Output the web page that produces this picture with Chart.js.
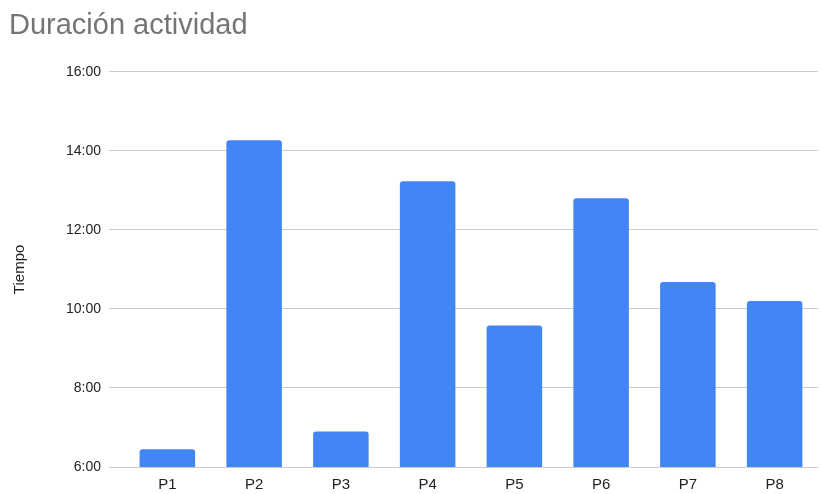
<!DOCTYPE html>
<html>
<head>
<meta charset="utf-8">
<script src="https://cdn.jsdelivr.net/npm/chart.js@4"></script>
<style>
  html, body { margin: 0; padding: 0; background: #fff; }
  #wrap { width: 822px; height: 494px; }
</style>
</head>
<body>
<div id="wrap"><canvas id="duracionChart"></canvas></div>
<script>
// duración por participante, en H:MM
const participantes = ['P1', 'P2', 'P3', 'P4', 'P5', 'P6', 'P7', 'P8'];
const duraciones = ['6:27', '14:16', '6:54', '13:14', '9:35', '12:48', '10:41', '10:12'];
const ticksHoras = [6, 8, 10, 12, 14, 16];

const aHoras = (s) => {
    const [h, m] = s.split(':').map(Number);
    return h + m / 60;
};

const familia = '"Liberation Sans", Arial, sans-serif';
const fuente = { family: familia, size: 15 };

const ctx = document.getElementById('duracionChart').getContext('2d');
const duracionChart = new Chart(ctx, {
    type: 'bar',
    data: {
        labels: participantes,
        datasets: [{
            label: 'Tiempo',
            data: duraciones.map(aHoras),
            backgroundColor: '#4285F4',
            borderRadius: 3,
            borderSkipped: 'bottom',
            barPercentage: 0.64,
            categoryPercentage: 1,
        }],
    },
    options: {
        responsive: true,
        maintainAspectRatio: false,
        animation: false,
        layout: { padding: { left: 9, right: 4, bottom: 2 } },
        plugins: {
            legend: { display: false },
            tooltip: { enabled: false },
            title: {
                display: true,
                text: 'Duración actividad',
                align: 'start',
                color: '#757575',
                font: { family: familia, size: 29, weight: 'normal' },
                padding: { top: 9, bottom: 28 },
            },
        },
        scales: {
            x: {
                afterFit: (scale) => { scale.height = 25; },
                grid: { display: false, drawTicks: false },
                border: { display: false },
                ticks: {
                    color: '#222',
                    padding: 9,
                    font: fuente,
                },
            },
            y: {
                min: 6,
                max: 16,
                afterBuildTicks: (scale) => {
                    scale.ticks = ticksHoras.map(v => ({ value: v }));
                },
                afterFit: (scale) => { scale.width = 115; },
                border: { display: false },
                grid: {
                    color: '#cccccc',
                    tickColor: '#cccccc',
                    tickLength: 15,
                },
                ticks: {
                    color: '#222',
                    padding: 8,
                    font: { family: familia, size: 14 },
                    callback: (v) => v + ':00',
                },
                title: {
                    display: true,
                    text: 'Tiempo',
                    color: '#222',
                    padding: { top: 2, bottom: 0 },
                    font: fuente,
                },
            },
        },
    },
});
</script>
</body>
</html>
